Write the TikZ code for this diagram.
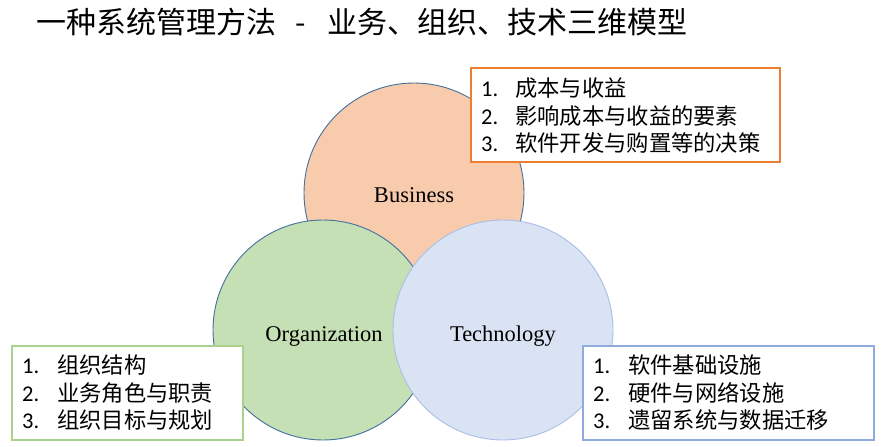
\documentclass[tikz,border=0pt]{standalone}
\usepackage{fontspec}
\setmainfont{Liberation Serif}
\newfontfamily\cjk{Noto Sans CJK SC}
\newfontfamily\numf{Carlito}
\definecolor{busfill}{HTML}{F8CBAD}
\definecolor{orgfill}{HTML}{C5E0B4}
\definecolor{tecfill}{HTML}{DAE3F3}
\definecolor{darkline}{HTML}{41719C}
\definecolor{tecline}{HTML}{A9BFE6}
\definecolor{busbox}{HTML}{ED7D31}
\definecolor{orgbox}{HTML}{A9D18E}
\definecolor{tecbox}{HTML}{8FAADC}
\tikzset{
  venn/.style={circle, minimum size=220pt, inner sep=0pt, line width=0.9pt},
  vlabel/.style={inner sep=0pt, font=\fontsize{22.5}{26}\selectfont},
  listbox/.style={rectangle, fill=white, line width=1.2pt, inner sep=0pt, minimum height=94pt},
  num/.style={anchor=base west, inner sep=0pt, font=\numf\fontsize{22.5}{26}\selectfont},
  item/.style={anchor=base west, inner sep=0pt, font=\cjk\fontsize{22.3}{26}\selectfont},
  ttl/.style={anchor=base west, inner sep=0pt, font=\cjk\fontsize{30}{34}\selectfont}
}
\begin{document}
\begin{tikzpicture}[x=1pt,y=-1pt]
\useasboundingbox (0,0) rectangle (887,447);
% title
\node[ttl] (t1) at (36,34) {一种系统管理方法};
\node[ttl, anchor=base] (t2) at (301,34) {-};
\node[ttl] (t3) at (327,34) {业务、组织、技术三维模型};
% circles
\node[venn, draw=darkline, fill=busfill] (bus) at (414,193) {};
\node[venn, draw=darkline, fill=orgfill] (org) at (323,330) {};
\node[venn, draw=tecline, fill=tecfill] (tec) at (503,330) {};
\node[vlabel] (busl) at (414,195) {Business};
\node[vlabel] (orgl) at (324,336) {Organization};
\node[vlabel] (tecl) at (503,336) {Technology};
% boxes
\node[listbox, draw=busbox, minimum width=309pt] (bbox) at (625.5,115) {};
\node[listbox, draw=orgbox, minimum width=231pt] (obox) at (127.5,393) {};
\node[listbox, draw=tecbox, minimum width=291pt] (tbox) at (728.5,393) {};
% business items
\node[num] (bn1) at (481,96) {1.};
\node[item] (bi1) at (515,96) {成本与收益};
\node[num] (bn2) at (481,124) {2.};
\node[item] (bi2) at (515,124) {影响成本与收益的要素};
\node[num] (bn3) at (481,151) {3.};
\node[item] (bi3) at (515,151) {软件开发与购置等的决策};
% organization items
\node[num] (on1) at (22,373) {1.};
\node[item] (oi1) at (57,373) {组织结构};
\node[num] (on2) at (22,401) {2.};
\node[item] (oi2) at (57,401) {业务角色与职责};
\node[num] (on3) at (22,428) {3.};
\node[item] (oi3) at (57,428) {组织目标与规划};
% technology items
\node[num] (tn1) at (593,373) {1.};
\node[item] (ti1) at (628,373) {软件基础设施};
\node[num] (tn2) at (593,401) {2.};
\node[item] (ti2) at (628,401) {硬件与网络设施};
\node[num] (tn3) at (593,428) {3.};
\node[item] (ti3) at (628,428) {遗留系统与数据迁移};
\end{tikzpicture}
\end{document}
